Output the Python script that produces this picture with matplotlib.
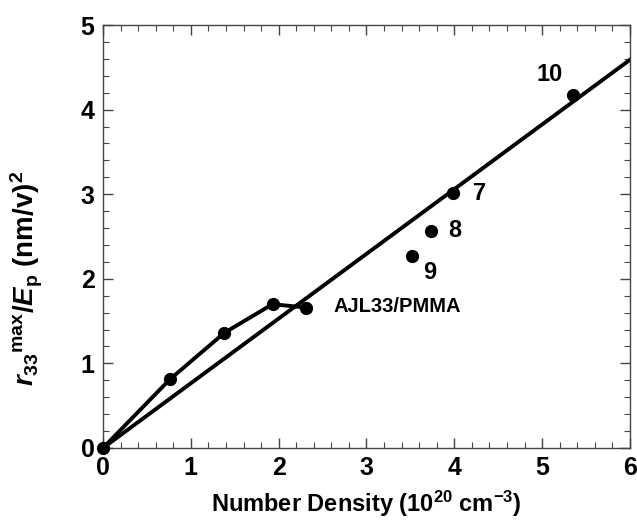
import numpy as np
import matplotlib
matplotlib.use('Agg')
import matplotlib.pyplot as plt

plt.rcParams['font.family'] = ['Liberation Sans', 'DejaVu Sans']
plt.rcParams['font.weight'] = 'bold'
plt.rcParams['mathtext.fontset'] = 'custom'
plt.rcParams['mathtext.rm'] = 'Liberation Sans:bold'
plt.rcParams['mathtext.it'] = 'Liberation Sans:bold:italic'
plt.rcParams['mathtext.bf'] = 'Liberation Sans:bold'

# curva de baixa densidade (ligada)
dens_low = [0.0, 0.76, 1.38, 1.93, 2.31]
r33_low = [0.0, 0.81, 1.36, 1.70, 1.66]

# pontos isolados
dens_pts = [3.98, 3.73, 3.52, 5.35]
r33_pts = [3.01, 2.57, 2.27, 4.17]
rotulos = ['7', '8', '9', '10']
pos_rotulos = [(4.29, 3.01), (4.01, 2.57), (3.72, 2.08), (5.09, 4.41)]

# ajuste linear
inclinacao = 0.765
x_fit = np.array([0.0, 6.0])

fig = plt.figure(figsize=(6.37, 5.22), dpi=100)
ax = fig.add_axes([0.1617, 0.1418, 0.8273, 0.8102])

ax.plot(x_fit, inclinacao * x_fit, color='black', lw=2.8, clip_on=True)
ax.plot(dens_low, r33_low, color='black', lw=2.8, marker='o', ms=8.5, clip_on=False, zorder=3)
ax.plot(dens_pts, r33_pts, ls='none', color='black', marker='o', ms=8.5, zorder=3)

for t, (xx, yy) in zip(rotulos, pos_rotulos):
    ax.text(xx, yy, t, fontsize=17, fontweight='bold', ha='center', va='center')

ax.text(3.35, 1.67, 'AJL33/PMMA', fontsize=14.5, fontweight='bold', ha='center', va='center')

ax.set_xlim(0, 6)
ax.set_ylim(0, 5)
ax.set_xticks(range(0, 7))
ax.set_yticks(range(0, 6))
ax.set_xticks(np.arange(0, 6.01, 0.2), minor=True)
ax.set_yticks(np.arange(0, 5.01, 0.2), minor=True)
ax.tick_params(which='both', direction='in', top=True, right=True, color='#444444')
ax.tick_params(which='major', length=7, width=1, labelsize=18, pad=6)
ax.tick_params(which='minor', length=4, width=0.8)
for lbl in ax.get_xticklabels() + ax.get_yticklabels():
    lbl.set_fontweight('bold')
for s in ax.spines.values():
    s.set_color('#444444')
    s.set_linewidth(1)

ax.set_xlabel('Number Density (10$^{20}$ cm$^{-3}$)', fontsize=17, fontweight='bold', labelpad=6)
ax.set_ylabel(r'$r_{33}{}^{\mathrm{max}}/E_{\mathrm{p}}$ (nm/v)$^2$', fontsize=20, fontweight='bold')
ax.yaxis.set_label_coords(-0.11, 0.40)

fig.savefig('out.png', dpi=100)
